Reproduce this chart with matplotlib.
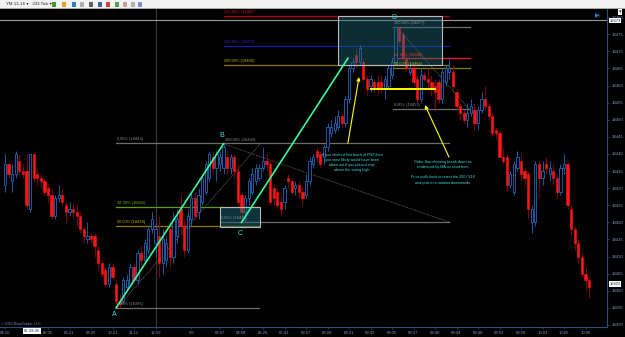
import numpy as np
import matplotlib
matplotlib.use("Agg")
import matplotlib.pyplot as plt
from matplotlib.patches import Rectangle

BACKGROUND = "#000000"
UP_COLOR = "#2266bb"
DOWN_COLOR = "#ff1515"
DOWN_WICK = "#990000"
AXIS_COLOR = "#2a4e7a"
LABEL_COLOR = "#7f97c0"
GRAY = "#6e6e6e"
GRAY_TEXT = "#8c8c8c"
OLIVE = "#8a7a00"
CYAN = "#33e0e6"
GREEN = "#33ff99"
YELLOW = "#ffff00"

plt.rcParams["font.family"] = ["Liberation Sans", "DejaVu Sans"]

# YM 233 tick bars, prices as points above 18000
BASE = 18000
opens = [431, 437, 432, 434, 438, 435, 435, 424, 440, 434, 433, 432, 430, 428, 422, 427, 428, 425, 423, 424,
         423, 422, 418, 415, 416, 416, 412, 408, 406, 402, 407, 402, 397, 397, 401, 402, 407, 403, 411, 409,
         412, 418, 414, 416, 408, 409, 418, 410, 416, 424, 419, 412, 421, 427, 423, 426, 429, 433, 439, 436,
         437, 436, 439, 436, 439, 435, 428, 423, 427, 429, 432, 433, 436, 438, 437, 430, 429, 426, 426, 433,
         432, 430, 431, 429, 428, 432, 437, 441, 440, 439, 442, 446, 447, 448, 451, 449, 456, 465, 469, 467,
         467, 462, 460, 461, 461, 461, 459, 460, 463, 467, 477, 475, 468, 464, 465, 462, 456, 463, 462, 461,
         460, 461, 456, 461, 464, 464, 458, 454, 452, 450, 452, 453, 449, 453, 456, 454, 451, 447, 446, 439,
         439, 431, 429, 436, 438, 435, 434, 420, 420, 437, 433, 437, 434, 435, 433, 429, 436, 437, 424, 418,
         414, 410, 405, 403]
highs = [440, 438, 437, 441, 440, 437, 440, 440, 440, 436, 434, 433, 431, 430, 428, 431, 430, 426, 426, 426,
         425, 423, 419, 420, 417, 417, 413, 409, 407, 408, 408, 403, 399, 404, 405, 408, 408, 412, 413, 415,
         419, 423, 420, 422, 418, 416, 420, 423, 424, 428, 421, 424, 429, 429, 430, 434, 438, 441, 441, 441,
         441, 443, 441, 440, 440, 437, 429, 428, 433, 436, 437, 437, 442, 440, 438, 431, 430, 428, 431, 434,
         433, 432, 432, 430, 434, 439, 440, 442, 441, 443, 449, 450, 451, 453, 452, 457, 466, 468, 471, 472,
         468, 463, 463, 462, 463, 463, 463, 466, 468, 477, 477, 476, 469, 467, 466, 463, 465, 464, 465, 463,
         462, 462, 465, 466, 468, 466, 459, 455, 453, 455, 456, 455, 454, 458, 460, 455, 452, 448, 447, 442,
         440, 435, 438, 441, 440, 436, 435, 425, 438, 438, 438, 439, 438, 437, 434, 437, 440, 438, 425, 419,
         415, 411, 407, 404]
lows = [429, 433, 429, 433, 434, 433, 424, 423, 432, 431, 430, 428, 426, 421, 421, 426, 425, 420, 422, 421,
        419, 417, 414, 414, 414, 410, 406, 404, 401, 401, 403, 396, 395, 396, 400, 401, 402, 402, 407, 408,
        411, 417, 410, 404, 405, 407, 407, 408, 414, 417, 410, 411, 419, 421, 421, 425, 428, 432, 434, 432,
        435, 434, 434, 434, 433, 424, 420, 420, 425, 428, 431, 432, 435, 435, 425, 425, 424, 422, 424, 430,
        428, 428, 427, 425, 427, 431, 436, 438, 436, 437, 441, 445, 446, 447, 448, 448, 455, 464, 465, 466,
        461, 457, 458, 458, 457, 458, 456, 459, 462, 466, 472, 467, 464, 463, 460, 455, 455, 461, 459, 457,
        453, 455, 455, 460, 462, 459, 453, 450, 449, 448, 451, 447, 447, 452, 453, 450, 445, 444, 439, 437,
        429, 430, 428, 435, 432, 431, 421, 417, 419, 427, 431, 434, 432, 431, 427, 428, 434, 424, 416, 412,
        408, 404, 400, 398]
closes = [437, 434, 434, 440, 435, 434, 425, 440, 433, 433, 432, 429, 428, 422, 427, 428, 426, 423, 424, 423,
          422, 418, 416, 416, 415, 413, 408, 405, 402, 407, 404, 397, 396, 403, 403, 407, 403, 411, 409, 414,
          418, 421, 418, 408, 415, 414, 410, 421, 421, 419, 412, 422, 427, 422, 428, 433, 437, 440, 436, 440,
          439, 442, 436, 439, 435, 426, 423, 427, 432, 434, 436, 436, 438, 437, 426, 427, 425, 424, 430, 432,
          429, 431, 429, 427, 432, 438, 439, 439, 437, 442, 448, 448, 449, 451, 449, 456, 465, 467, 467, 471,
          462, 459, 462, 459, 459, 459, 462, 465, 467, 477, 473, 468, 465, 465, 461, 456, 463, 462, 461, 459,
          458, 456, 464, 465, 465, 460, 454, 452, 450, 452, 454, 449, 453, 456, 454, 451, 446, 446, 439, 438,
          431, 434, 437, 439, 434, 433, 424, 424, 437, 433, 435, 436, 436, 433, 429, 436, 437, 425, 418, 414,
          410, 405, 403, 401]

tick_idx = [0, 12, 18, 24, 30, 36, 42, 52, 60, 66, 72, 78, 84, 90, 96, 102, 108, 114, 120, 126,
            132, 138, 144, 150, 156, 162]
tick_labels = ["04:10", "05:05", "06:21", "09:25", "10:21", "11:12", "12:59", "5/6", "03:07", "04:08",
               "05:26", "07:41", "08:57", "09:28", "09:31", "09:32", "09:35", "09:37", "09:40", "09:44",
               "09:48", "09:53", "09:58", "10:01", "10:05", "10:06"]
price_ticks = list(range(18390, 18481, 5))

# swing points (bar index, price)
A = (31, 18395)
B = (61, 18443)
C = (66, 18420)
D = (109, 18477)


def main():
    o = BASE + np.array(opens)
    h = BASE + np.array(highs)
    l = BASE + np.array(lows)
    c = BASE + np.array(closes)
    x = np.arange(len(o))
    up = c >= o

    fig = plt.figure(figsize=(6.25, 3.37), dpi=100)
    fig.patch.set_facecolor(BACKGROUND)
    ax = fig.add_axes([0, 10 / 337, 607 / 625, 318 / 337])
    ax.set_facecolor(BACKGROUND)

    # candles
    ax.vlines(x[up], l[up], h[up], color=UP_COLOR, linewidth=0.6, zorder=2)
    ax.vlines(x[~up], l[~up], h[~up], color=DOWN_WICK, linewidth=0.6, zorder=2)
    body_lo = np.minimum(o, c)
    body_h = np.maximum(np.abs(c - o), 0.35)
    ax.bar(x[up], body_h[up], bottom=body_lo[up], width=0.62, facecolor=BACKGROUND,
           edgecolor=UP_COLOR, linewidth=0.6, zorder=3)
    ax.bar(x[~up], body_h[~up], bottom=body_lo[~up], width=0.62, facecolor=DOWN_COLOR,
           edgecolor=DOWN_COLOR, linewidth=0.4, zorder=3)

    ax.set_xlim(-1.4, 168.0)
    ax.set_ylim(18389.4, 18482.4)

    # session separator and top price line
    ax.axvline(42, color="#3a3a3a", linewidth=0.8, zorder=1)
    ax.axhline(18479.2, color="#9a9a9a", linewidth=0.8, zorder=1)

    # fib levels: label, price, start bar, end bar, line colour, text colour
    fibs = [
        ("261.80% (18480)", 18480.3, 61, 124, "#b00000", "#d01010"),
        ("224.00% (18473)", 18471.6, 61, 124, "#1818b0", "#2a2ad0"),
        ("200.00% (18466)", 18466.0, 61, 124, OLIVE, "#c8b400"),
        ("0.00% (18443)", 18443.2, 31, 124, GRAY, GRAY_TEXT),
        ("38.20% (18425)", 18424.5, 31, 71, "#5aa000", "#78c000"),
        ("50.00% (18419)", 18418.9, 31, 71, OLIVE, "#c8b400"),
        ("0.00% (18395)", 18395.0, 31, 71, GRAY, GRAY_TEXT),
        ("0.00% (18420)", 18420.1, 60, 124, GRAY, GRAY_TEXT),
        ("100.00% (18477)", 18477.1, 108.3, 129.8, GRAY, GRAY_TEXT),
        ("61.80% (18468)", 18468.0, 108.3, 129.8, "#ff1a1a", "#ff3030"),
        ("50.00% (18465)", 18465.1, 108.3, 129.8, OLIVE, "#c8b400"),
        ("0.00% (18453)", 18453.1, 108.3, 129.8, GRAY, GRAY_TEXT),
    ]
    for label, price, x0, x1, lc, tc in fibs:
        ax.plot([x0, x1], [price, price], color=lc, linewidth=0.9, zorder=1)
        ax.text(x0 + 0.2, price + 0.5, label, color=tc, fontsize=2.9, va="bottom", zorder=6)
    ax.text(B[0] + 0.3, B[1] + 0.5, "100.00% (18443)", color=GRAY_TEXT, fontsize=2.9, va="bottom", zorder=6)

    ax.plot([102, 120], [18459, 18459], color=YELLOW, linewidth=1.4, zorder=4)

    # boxes
    ax.add_patch(Rectangle((92.9, 18466.0), 29.1, 14.3, facecolor="#1d6577", alpha=0.45,
                           edgecolor="none", zorder=4))
    ax.add_patch(Rectangle((92.9, 18466.0), 29.1, 14.3, facecolor="none",
                           edgecolor="#b8b8b8", linewidth=0.8, zorder=5))
    ax.add_patch(Rectangle((60, 18418.6), 11.2, 5.9, facecolor="#1d6577", alpha=0.5,
                           edgecolor="none", zorder=4))
    ax.add_patch(Rectangle((60, 18418.6), 11.2, 5.9, facecolor="none",
                           edgecolor="#b8b8b8", linewidth=0.8, zorder=5))

    # dotted projections
    for (x0, y0), (x1, y1) in [((31.3, 18395), (71.2, 18443)), ((60.8, 18443), (124.2, 18420)),
                               ((109.4, 18477), (129.8, 18452.8))]:
        ax.plot([x0, x1], [y0, y1], color="#707070", linewidth=0.6, linestyle=(0, (1, 1)), zorder=1)

    # swing legs
    ax.plot([A[0], B[0]], [A[1], B[1]], color=GREEN, linewidth=1.2, zorder=5)
    ax.plot([C[0], 95.7], [C[1], 18468], color=GREEN, linewidth=1.2, zorder=5)

    for name, (px, py), dy in [("A", A, -1.9), ("B", B, 2.4), ("C", C, -3.4), ("D", D, 2.9)]:
        ax.text(px - 0.5, py + dy, name, color=CYAN, fontsize=5, ha="center", va="center", zorder=6)

    # arrows
    arrow = dict(arrowstyle="-|>", color=YELLOW, lw=0.8, mutation_scale=5, shrinkA=0, shrinkB=0)
    ax.annotate("", xy=(98.8, 18462.5), xytext=(95.7, 18443.2), arrowprops=arrow, zorder=6)
    ax.annotate("", xy=(117.2, 18454.3), xytext=(123.9, 18439.1), arrowprops=arrow, zorder=6)

    ax.text(96.9, 18437.4, "If you shorted first touch of PRZ then\nyou most likely would have been\n"
            "taken out if you placed stop\nabove the swing high",
            color=CYAN, fontsize=2.7, ha="center", va="center", linespacing=1.35, zorder=6)
    ax.text(122.2, 18434.6, "Order flow showing break down as\nevidenced by MA on short term.\n\n"
            "Price pulls back to retest the 200 / 618\nand puts in a rotation downwards.",
            color=CYAN, fontsize=2.7, ha="center", va="center", linespacing=1.35, zorder=6)

    # axes styling
    ax.yaxis.tick_right()
    ax.set_yticks(price_ticks)
    ax.set_yticklabels([str(p) for p in price_ticks])
    ax.set_xticks(tick_idx)
    ax.set_xticklabels(tick_labels)
    ax.tick_params(axis="y", colors=AXIS_COLOR, labelcolor=LABEL_COLOR, labelsize=3.1,
                   length=1.5, width=0.5, pad=1.5)
    ax.tick_params(axis="x", colors=AXIS_COLOR, labelcolor=LABEL_COLOR, labelsize=3.1,
                   length=1.5, width=0.5, pad=1.2)
    for side in ["top", "left"]:
        ax.spines[side].set_visible(False)
    for side in ["right", "bottom"]:
        ax.spines[side].set_color(AXIS_COLOR)
        ax.spines[side].set_linewidth(0.8)

    # price tags
    ytr = ax.get_yaxis_transform()
    for p in [18479, 18402]:
        ax.text(1.004, p, str(p), transform=ytr, fontsize=3, color="#203050", va="center",
                clip_on=False, bbox=dict(boxstyle="square,pad=0.15", facecolor="#ffffff", edgecolor="none"),
                zorder=7)

    # crosshair time tag, copyright
    fig.text(32 / 625, 1 - 331 / 337, "05:39:45", fontsize=3.1, color="#203050", ha="center", va="center",
             bbox=dict(boxstyle="square,pad=0.15", facecolor="#ffffff", edgecolor="none"))
    fig.text(0.002, 1 - 324 / 337, "© 2016 NinjaTrader, LLC", fontsize=2.6, color="#7a8aa8", va="center")
    fig.text(598 / 625, 1 - 15 / 337, "▶|", fontsize=4, color="#3a7ad0", ha="center", va="center")

    # toolbar
    fig.patches.append(Rectangle((0, 1 - 8 / 337), 1, 8 / 337, transform=fig.transFigure,
                                 facecolor="#f2f2f2", edgecolor="none", zorder=0))
    fig.patches.append(Rectangle((0, 1 - 9 / 337), 1, 1 / 337, transform=fig.transFigure,
                                 facecolor="#a8a8a8", edgecolor="none", zorder=0))
    fig.text(6 / 625, 1 - 4 / 337, "YM 12-16 ▾   233 Tick ▾", fontsize=3.2, color="#202020", va="center")
    for px, col in [(52, "#3a9a3a"), (62, "#e0a020"), (72, "#3080c0"), (80, "#b0b0b0"), (89, "#606060"),
                    (98, "#4060a0"), (106, "#d04040"), (115, "#50a050"), (123, "#c8a0a0"), (131, "#b0b0b0"),
                    (138, "#8090d0")]:
        fig.patches.append(Rectangle((px / 625, 1 - 6.5 / 337), 4 / 625, 5 / 337, transform=fig.transFigure,
                                     facecolor=col, edgecolor="none", zorder=1))
    fig.text(620 / 625, 1 - 12 / 337, "▾", fontsize=3.5, color="#202020", ha="center", va="center",
             bbox=dict(boxstyle="square,pad=0.2", facecolor="#ffffff", edgecolor="none"))

    fig.savefig("out.png", dpi=100, facecolor=BACKGROUND)
    plt.close(fig)


if __name__ == "__main__":
    main()
